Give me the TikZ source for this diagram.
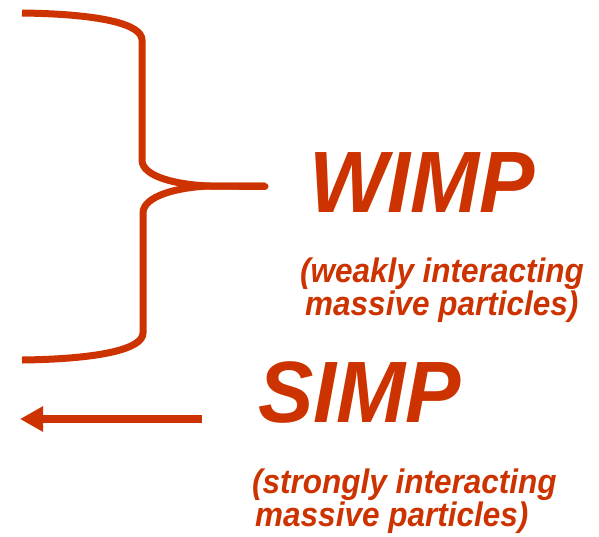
\documentclass[tikz,border=0pt]{standalone}
\usepackage{fontspec}
\setmainfont{Liberation Sans}
\usetikzlibrary{arrows.meta}
\definecolor{wred}{HTML}{CC3300}
\tikzset{
  big/.style={font=\fontsize{83}{83}\selectfont\bfseries\itshape, text=wred, inner sep=0pt, anchor=base west, yscale=1.05},
  small/.style={font=\fontsize{31.5}{30.5}\selectfont\bfseries\itshape, text=wred, inner sep=0pt, anchor=base west, align=left, yscale=1.08},
  bracestyle/.style={draw=wred, line width=7pt},
  arrowstyle/.style={draw=wred, line width=8pt, -{Triangle[length=23pt,width=24pt]}}
}
\begin{document}
\begin{tikzpicture}[x=1pt,y=-1pt]
\useasboundingbox (0,0) rectangle (599,536);
% brace
\coordinate (btop) at (22,13);
\coordinate (btip) at (265,186);
\coordinate (bbot) at (22,360);
\draw[bracestyle] (btop) .. controls (100,14) and (142,24) .. (142,40)
  -- (142,160) .. controls (142,177) and (178,185) .. (210,186)
  -- (btip);
\draw[bracestyle] (btip) -- (210,186)
  .. controls (178,187) and (143,196) .. (143,213)
  -- (143,333) .. controls (143,349) and (100,359) .. (bbot);
\draw[draw=wred, line width=7pt, line cap=round] (240,186) -- (btip);
% arrow
\coordinate (astart) at (202,419);
\coordinate (aend) at (20,419);
\draw[arrowstyle] (astart) -- (aend);
% texts
\node[big] (wimp) at (309,212) {WIMP};
\node[small] (wimpsub) at (300,315) {(weakly interacting\\\hspace*{5pt}massive particles)};
\node[big] (simp) at (258,422) {SIMP};
\node[small] (simpsub) at (252,526) {(strongly interacting\\\hspace*{3pt}massive particles)};
\end{tikzpicture}
\end{document}
